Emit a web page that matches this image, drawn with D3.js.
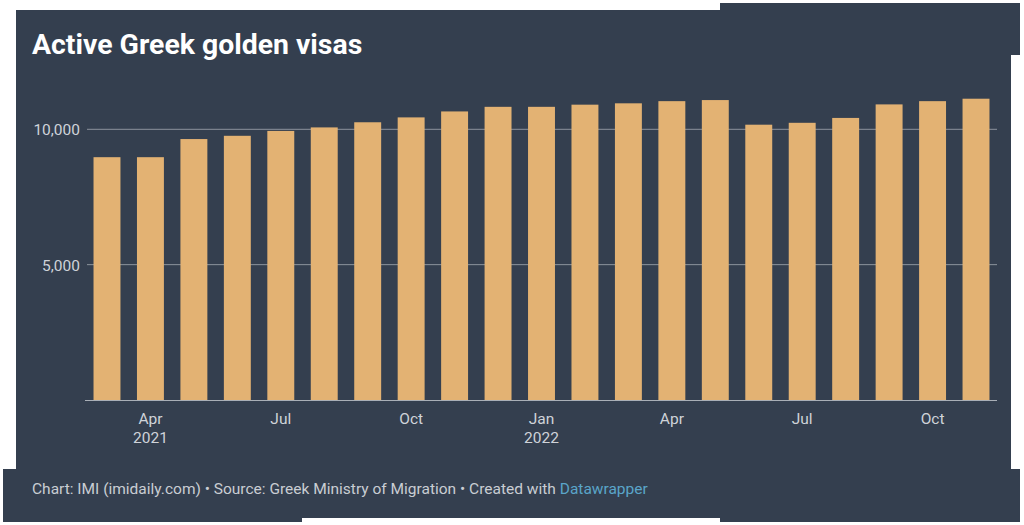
<!DOCTYPE html>
<html>
<head>
<meta charset="utf-8">
<script src="https://cdn.jsdelivr.net/npm/d3@7"></script>
<style>
  html, body { margin: 0; padding: 0; background: #ffffff; }
  svg { display: block; font-family: Roboto, "Noto Sans", sans-serif; }
</style>
</head>
<body>
<svg id="chart" width="1024" height="525"></svg>
<script>
// ---- data ----
const months = ["2021-03","2021-04","2021-05","2021-06","2021-07","2021-08","2021-09","2021-10","2021-11","2021-12",
                "2022-01","2022-02","2022-03","2022-04","2022-05","2022-06","2022-07","2022-08","2022-09","2022-10","2022-11"];
const activeVisas = [8970, 8970, 9640, 9760, 9940, 10070, 10260, 10440, 10660, 10830,
                     10830, 10910, 10960, 11040, 11080, 10170, 10240, 10420, 10920, 11040, 11130];
const tickMonths = ["2021-04","2021-07","2021-10","2022-01","2022-04","2022-07","2022-10"];
const tickMonthLabels = ["Apr","Jul","Oct","Jan","Apr","Jul","Oct"];
const tickYearLabels = ["2021","","","2022","","",""];
const yTicks = [5000, 10000];
const title = "Active Greek golden visas";
const footerText = "Chart: IMI (imidaily.com) \u2022 Source: Greek Ministry of Migration \u2022 Created with ";
const footerLink = "Datawrapper";

// ---- styles ----
const BG = "#343f4f";
const BAR = "#e3b273";
const GRID = "#8c939d";
const TEXT = "#cfd3d9";

const svg = d3.select("#chart");

// background panel (irregular scanned outline)
const bgPts = [[16,10],[720,10],[720,3],[1020,3],[1020,55],[1011,55],[1011,469],[1020,469],[1020,522],
               [720,522],[720,518],[302,518],[302,522],[3,522],[3,469],[16,469]];
svg.append("path")
  .attr("d", d3.line()(bgPts) + "Z")
  .attr("fill", BG);

// title
svg.append("text")
  .attr("x", 32).attr("y", 54)
  .attr("fill", "#ffffff")
  .attr("font-size", 28.4)
  .attr("font-weight", 700)
  .text(title);

// scales
const x = d3.scaleBand()
  .domain(months)
  .range([87, 996])
  .paddingInner(0.38)
  .paddingOuter(0.15);

const y = d3.scaleLinear()
  .domain([0, 10000])
  .range([400, 129.3]);

// y axis labels
const yAxis = d3.axisLeft(y)
  .tickValues(yTicks)
  .tickSize(0)
  .tickFormat(d3.format(","));

const gy = svg.append("g").attr("transform", "translate(80,0)").call(yAxis);
gy.select(".domain").remove();
gy.selectAll("text")
  .attr("fill", TEXT)
  .attr("font-size", 15.5)
  .attr("font-family", "Roboto, sans-serif")
  .attr("x", 0)
  .attr("dy", "0.36em");

// gridlines
svg.append("g").selectAll("line")
  .data(yTicks)
  .join("line")
  .attr("x1", 87).attr("x2", 997)
  .attr("y1", d => y(d)).attr("y2", d => y(d))
  .attr("stroke", GRID)
  .attr("stroke-width", 1);

// bars
svg.append("g").selectAll("rect")
  .data(months.map((m, i) => ({ m, v: activeVisas[i] })))
  .join("rect")
  .attr("x", d => x(d.m))
  .attr("width", x.bandwidth())
  .attr("y", d => y(d.v))
  .attr("height", d => y(0) - y(d.v))
  .attr("fill", BAR);

// baseline
svg.append("line")
  .attr("x1", 85).attr("x2", 997)
  .attr("y1", y(0) + 0.5).attr("y2", y(0) + 0.5)
  .attr("stroke", "#a9afb7")
  .attr("stroke-width", 1);

// x axis labels
const xAxis = d3.axisBottom(x)
  .tickValues(tickMonths)
  .tickSize(0)
  .tickFormat((d, i) => tickMonthLabels[i]);
const gx = svg.append("g").attr("transform", `translate(0,${y(0)})`).call(xAxis);
gx.select(".domain").remove();
gx.selectAll(".tick text")
  .attr("fill", TEXT)
  .attr("font-size", 15.5)
  .attr("font-family", "Roboto, sans-serif")
  .attr("y", 0)
  .attr("dy", 0)
  .each(function(d, i) {
    const t = d3.select(this);
    t.text(null);
    t.append("tspan").attr("x", 0).attr("y", 23.5).text(tickMonthLabels[i]);
    if (tickYearLabels[i]) t.append("tspan").attr("x", 0).attr("y", 43).text(tickYearLabels[i]);
  });

// footer
const ft = svg.append("text")
  .attr("x", 32).attr("y", 494)
  .attr("font-size", 15.5)
  .attr("fill", "#c9cdd3");
ft.append("tspan").text(footerText);
ft.append("tspan").attr("fill", "#5aa5c9").text(footerLink);
</script>
</body>
</html>
